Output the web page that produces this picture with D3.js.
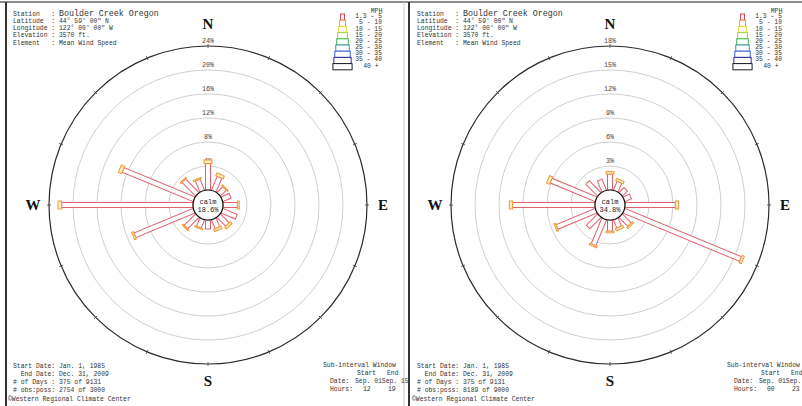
<!DOCTYPE html>
<html>
<head>
<meta charset="utf-8">
<script src="https://cdn.jsdelivr.net/npm/d3@7"></script>
<style>
body { margin: 0; background: #fff; }
svg { display: block; }
text { font-family: "Liberation Mono", "DejaVu Sans Mono", monospace; white-space: pre; }
</style>
</head>
<body>
<svg id="chart" width="802" height="406"></svg>
<script>
// wind rose data
var directions = ['N','NNE','NE','ENE','E','ESE','SE','SSE','S','SSW','SW','WSW','W','WNW','NW','NNW'];
var speedClasses = ['1.3 - 5','5 - 10','10 - 15','15 - 20','20 - 25','25 - 30','30 - 35','35 - 40','40 +'];
var classColors = ['#dc4654','#f09a38','#e6d83a','#9cd44c','#3cb44a','#3a9a9e','#3c5ad8','#2c2c96','#1e1e1e'];

// percent of obs per direction, total and the 5-10 mph share
var leftTotal  = [5.0, 3.0, 1.6, 1.5, 2.7, 2.6, 2.5, 2.0, 1.5, 1.7, 2.9, 11.0, 22.5, 13.4, 3.4, 2.2];
var leftUpper  = [0.6, 0.5, 0.2, 0.0, 0.3, 0.0, 0.4, 0.4, 0.0, 0.2, 0.2, 0.3, 0.6, 0.6, 0.2, 0.2];
var rightTotal = [2.3, 1.5, 0.9, 0.9, 6.7, 16.1, 1.8, 1.4, 1.6, 3.7, 2.0, 5.5, 10.7, 6.5, 2.1, 1.5];
var rightUpper = [0.3, 0.3, 0.0, 0.0, 0.4, 0.3, 0.2, 0.3, 0.2, 0.2, 0.0, 0.2, 0.4, 0.4, 0.0, 0.0];

var leftTicks = [4, 8, 12, 16, 20, 24];
var rightTicks = [3, 6, 9, 12, 15, 18];
var leftCalm = '18.6%', rightCalm = '34.8%';

var headerLabels = ['Station   : ', 'Latitude  : ', 'Longitude : ', 'Elevation : ', 'Element   : '];
var headerValues = ['Boulder Creek Oregon', '44\u00b0 59\' 00" N', '122\u00b0 00\' 00" W', '3570 ft.', 'Mean Wind Speed'];

var footerLabels = ['Start Date: ', '  End Date: ', '# of Days : ', '# obs:poss: '];
var leftFooter  = ['Jan. 1, 1985', 'Dec. 31, 2009', '375 of 9131', '2754 of 3000'];
var rightFooter = ['Jan. 1, 1985', 'Dec. 31, 2009', '375 of 9131', '8189 of 9000'];
var leftHours = ['12', '19'], rightHours = ['00', '23'];
var subDates = 'Sep. 01Sep. 15';

var svg = d3.select('#chart');

// frame
svg.append('line').attr('x1', 0).attr('x2', 802).attr('y1', 2).attr('y2', 2)
	.attr('stroke', '#8c8c8c').attr('stroke-width', 2);
svg.append('line').attr('x1', 6).attr('x2', 6).attr('y1', 2).attr('y2', 406)
	.attr('stroke', '#333').attr('stroke-width', 2);
svg.append('line').attr('x1', 404).attr('x2', 404).attr('y1', 2).attr('y2', 406)
	.attr('stroke', '#c8c8c8').attr('stroke-width', 1);

var drawPanel = function(p) {
	var g = svg.append('g');
	var calmR = 15, outerR = 159;
	var r = d3.scaleLinear().domain([0, d3.max(p.ticks)]).range([calmR, outerR]);
	var ang = d3.scaleLinear().domain([0, directions.length]).range([0, 360]);

	// rings
	g.selectAll('circle.ring').data(p.ticks.slice(0, -1))
		.enter().append('circle')
		.attr('cx', p.cx).attr('cy', p.cy)
		.attr('r', function(d) { return r(d); })
		.attr('fill', 'none').attr('stroke', '#cfcfcf').attr('stroke-width', 1);
	g.append('circle').attr('cx', p.cx).attr('cy', p.cy).attr('r', outerR)
		.attr('fill', 'none').attr('stroke', '#2a2a2a').attr('stroke-width', 1.2);

	// small ticks on the outer circle
	g.selectAll('line.tick').data(directions)
		.enter().append('line')
		.attr('x1', 0).attr('x2', 0).attr('y1', -outerR - 2).attr('y2', -outerR + 2)
		.attr('stroke', '#444').attr('stroke-width', 0.8)
		.attr('transform', function(d, i) { return 'translate(' + p.cx + ',' + p.cy + ') rotate(' + ang(i) + ')'; });

	// ring labels
	g.selectAll('text.ringlab').data(p.ticks)
		.enter().append('text')
		.attr('x', p.cx).attr('y', function(d) { return p.cy - r(d) - 3; })
		.attr('text-anchor', 'middle').attr('font-size', 6.8).attr('fill', '#444')
		.text(function(d) { return d + '%'; });

	// bars
	var bars = g.selectAll('g.bar').data(directions)
		.enter().append('g')
		.attr('transform', function(d, i) { return 'translate(' + p.cx + ',' + p.cy + ') rotate(' + ang(i) + ')'; });
	bars.append('rect')
		.attr('x', -2.5).attr('width', 5)
		.attr('y', function(d, i) { return -r(p.total[i] - p.upper[i]); })
		.attr('height', function(d, i) { return r(p.total[i] - p.upper[i]) - calmR; })
		.attr('fill', '#fff').attr('stroke', '#e0606c').attr('stroke-width', 1);
	bars.filter(function(d, i) { return p.upper[i] > 0; })
		.append('rect')
		.attr('x', -4).attr('width', 8)
		.attr('y', function(d) { var i = directions.indexOf(d); return -r(p.total[i]); })
		.attr('height', function(d) { var i = directions.indexOf(d); return r(p.total[i]) - r(p.total[i] - p.upper[i]); })
		.attr('fill', '#fbeec4').attr('stroke', classColors[1]).attr('stroke-width', 1);

	// calm
	g.append('circle').attr('cx', p.cx).attr('cy', p.cy).attr('r', calmR)
		.attr('fill', '#fff').attr('stroke', '#111').attr('stroke-width', 1.2);
	g.append('text').attr('x', p.cx).attr('y', p.cy - 1).attr('text-anchor', 'middle')
		.attr('font-size', 7).attr('fill', '#222').text('calm');
	g.append('text').attr('x', p.cx).attr('y', p.cy + 7).attr('text-anchor', 'middle')
		.attr('font-size', 7).attr('fill', '#222').text(p.calm);

	// compass letters
	var compass = [['N', 0, -176], ['E', 175, 5], ['S', 0, 181], ['W', -175, 5]];
	g.selectAll('text.compass').data(compass)
		.enter().append('text')
		.attr('x', function(d) { return p.cx + d[1]; })
		.attr('y', function(d) { return p.cy + d[2]; })
		.attr('text-anchor', 'middle')
		.style('font-family', '"Liberation Serif", serif').attr('font-weight', 'bold')
		.attr('font-size', 15).attr('fill', '#111')
		.text(function(d) { return d[0]; });

	// header
	var hy = [15.5, 22.6, 30, 37.3, 45];
	headerLabels.forEach(function(lab, i) {
		var t = g.append('text').attr('x', p.x0 + 13).attr('y', hy[i]).attr('fill', '#333').attr('font-size', 6.4);
		t.append('tspan').text(lab);
		t.append('tspan').attr('font-size', i === 0 ? 8.3 : 6.4).text(headerValues[i]);
	});

	// legend
	g.append('text').attr('x', p.legX + 34).attr('y', 12.5).attr('text-anchor', 'middle')
		.attr('font-size', 6.4).attr('fill', '#333').text('MPH');
	var lw = function(i) { return 4 + i * 1.9; };
	g.selectAll('rect.leg').data(speedClasses)
		.enter().append('rect')
		.attr('x', function(d, i) { return p.legX - lw(i) / 2; })
		.attr('y', function(d, i) { return 14 + i * 6.2; })
		.attr('width', function(d, i) { return lw(i); })
		.attr('height', 6.2)
		.attr('fill', '#fff')
		.attr('stroke', function(d, i) { return classColors[i]; })
		.attr('stroke-width', 1);
	g.selectAll('text.leg').data(speedClasses)
		.enter().append('text')
		.attr('x', function(d, i) { return i === 8 ? p.legX + 36 : p.legX + 39.5; })
		.attr('y', function(d, i) { return 18.3 + i * 6.15; })
		.attr('text-anchor', 'end').attr('font-size', 6.4).attr('fill', '#333')
		.text(function(d) { return d; });

	// footer
	var fy = [368.3, 376.3, 384, 391.6];
	footerLabels.forEach(function(lab, i) {
		g.append('text').attr('x', p.x0 + 13).attr('y', fy[i]).attr('font-size', 6.4).attr('fill', '#333')
			.text(lab + p.footer[i]);
	});
	g.append('text').attr('x', p.x0 + 8).attr('y', 401).attr('font-size', 6.4).attr('fill', '#333')
		.text('\u00a9Western Regional Climate Center');

	// sub-interval window
	var sx = p.x0 + 323;
	g.append('text').attr('x', sx).attr('y', 367.3).attr('font-size', 6.4).attr('fill', '#333').text('Sub-interval Window');
	g.append('text').attr('x', sx + 34).attr('y', 375.3).attr('font-size', 6.4).attr('fill', '#333').text('Start');
	g.append('text').attr('x', sx + 64).attr('y', 375.3).attr('font-size', 6.4).attr('fill', '#333').text('End');
	g.append('text').attr('x', sx + 7).attr('y', 383.3).attr('font-size', 6.4).attr('fill', '#333').text('Date:');
	g.append('text').attr('x', sx + 32).attr('y', 383.3).attr('font-size', 6.4).attr('fill', '#333').text(subDates);
	g.append('text').attr('x', sx + 7).attr('y', 391.3).attr('font-size', 6.4).attr('fill', '#333').text('Hours:');
	g.append('text').attr('x', sx + 40).attr('y', 391.3).attr('font-size', 6.4).attr('fill', '#333').text(p.hours[0]);
	g.append('text').attr('x', sx + 65).attr('y', 391.3).attr('font-size', 6.4).attr('fill', '#333').text(p.hours[1]);
};

drawPanel({ x0: 0, cx: 208, cy: 205, ticks: leftTicks, total: leftTotal, upper: leftUpper,
	calm: leftCalm, legX: 342.5, footer: leftFooter, hours: leftHours });
drawPanel({ x0: 404, cx: 610, cy: 205, ticks: rightTicks, total: rightTotal, upper: rightUpper,
	calm: rightCalm, legX: 742.5, footer: rightFooter, hours: rightHours });

// right panel border drawn last so it sits over the left panel's overflowing text
svg.append('line').attr('x1', 409).attr('x2', 409).attr('y1', 2).attr('y2', 406)
	.attr('stroke', '#333').attr('stroke-width', 2);
</script>
</body>
</html>
